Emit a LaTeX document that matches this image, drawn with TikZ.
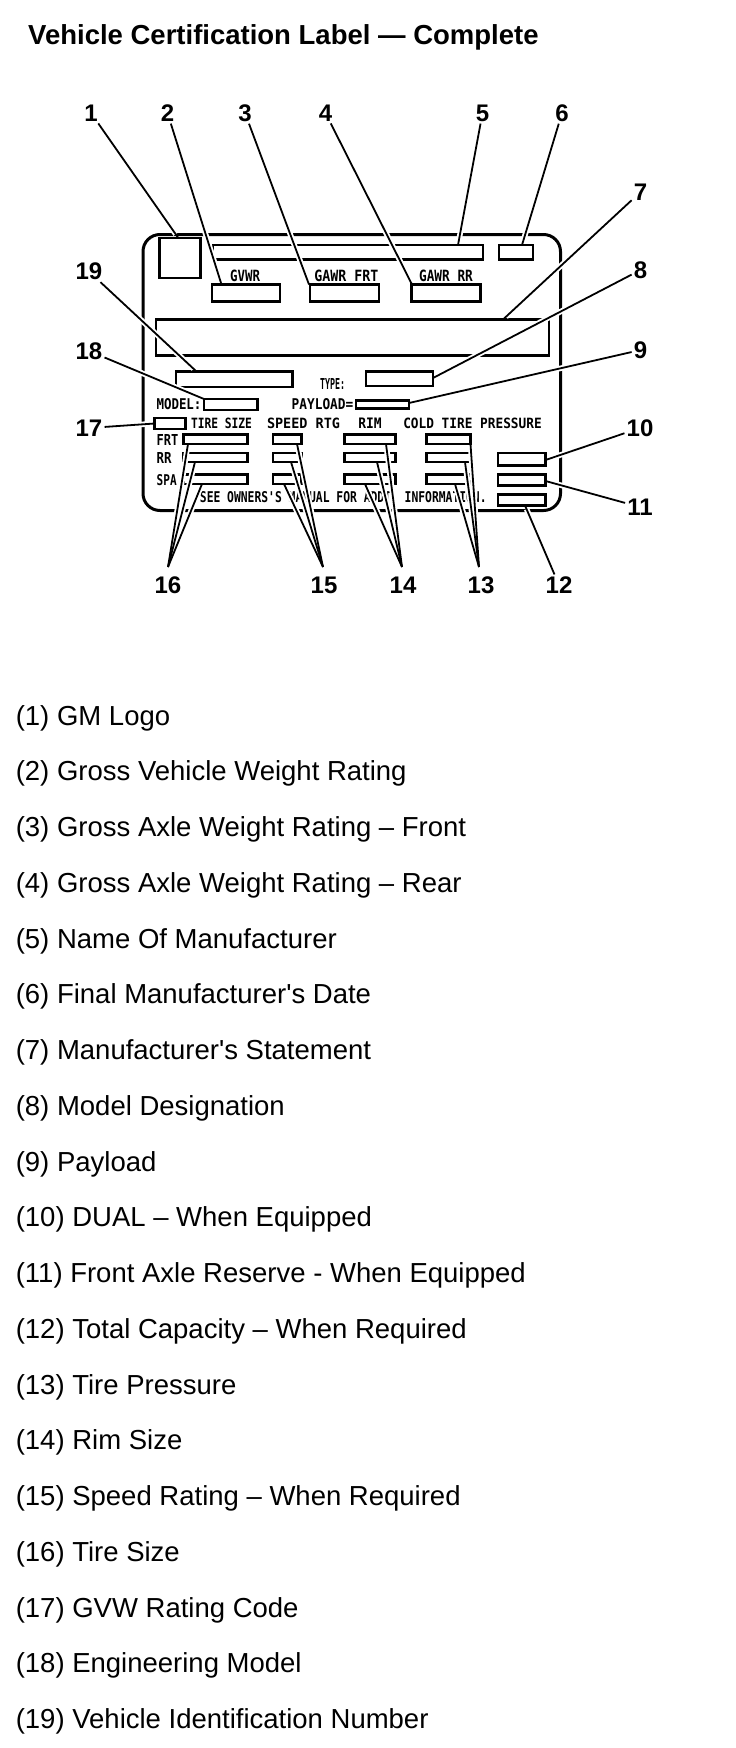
\documentclass[tikz,border=0pt]{standalone}
\usepackage{fontspec}
\usepackage{graphicx}
\setmainfont{Liberation Sans}
\newfontfamily\lblfont{DejaVu Sans Mono}
\usetikzlibrary{calc}
\newcommand\lbltext[3]{\resizebox{#1pt}{#2pt}{\lblfont\bfseries #3}}
\newcommand\bx[5]{\node[box, minimum width={#4-#2}, minimum height={#5-#3}] (#1) at ({(#2+#4)/2},{(#3+#5)/2}) {};}
\newcommand\leaderset[1]{%
  \draw[#1] (n1) -- (e1);
  \draw[#1] (n2) -- (e2);
  \draw[#1] (n3) -- (e3);
  \draw[#1] (n4) -- (e4);
  \draw[#1] (n5) -- (e5);
  \draw[#1] (n6) -- (e6);
  \draw[#1] (n7) -- (e7);
  \draw[#1] (n8) -- (e8);
  \draw[#1] (n9) -- (e9);
  \draw[#1] (n10) -- (e10);
  \draw[#1] (n11) -- (e11);
  \draw[#1] (n12) -- (e12);
  \draw[#1] (ap13) -- (e13a); \draw[#1] (ap13) -- (e13b); \draw[#1] (ap13) -- (e13c);
  \draw[#1] (ap14) -- (e14a); \draw[#1] (ap14) -- (e14b); \draw[#1] (ap14) -- (e14c);
  \draw[#1] (ap15) -- (e15a); \draw[#1] (ap15) -- (e15b); \draw[#1] (ap15) -- (e15c);
  \draw[#1] (ap16) -- (e16a); \draw[#1] (ap16) -- (e16b); \draw[#1] (ap16) -- (e16c);
  \draw[#1] (n17) -- (e17);
  \draw[#1] (n18) -- (e18);
  \draw[#1] (n19) -- (e19);
}
\begin{document}
\begin{tikzpicture}[x=1pt,y=-1pt,
  box/.style={draw, line width=2.8pt, inner sep=0pt, outer sep=0pt},
  lbl/.style={inner sep=0pt, outer sep=0pt, anchor=center},
  num/.style={font=\bfseries\fontsize{24}{24}\selectfont, inner sep=2pt},
  item/.style={anchor=base west, inner sep=0pt, font=\fontsize{27.5}{30}\selectfont},
  halo/.style={draw=white, line width=5.5pt, shorten >=4pt, shorten <=2pt},
  leader/.style={draw=black, line width=1.8pt}]
\fill[white] (0,0) rectangle (736,1748);
\useasboundingbox (0,0) rectangle (736,1748);

\node[anchor=base west, inner sep=0pt, font=\bfseries\fontsize{27.5}{30}\selectfont] (title) at (28,44.5) {Vehicle Certification Label — Complete};

% label frame
\node[draw, line width=3pt, rounded corners=17pt, minimum width=417.5, minimum height=276, inner sep=0pt] (frame) at (351.75,372.5) {};

% boxes
\bx{b1}{159.5}{238}{200.5}{278}
\bx{b5}{213}{245}{483}{259.5}
\bx{b6}{499}{245}{533}{259.5}
\bx{b2}{212}{284.5}{280}{301.5}
\bx{b3}{310}{284.5}{379}{301.5}
\bx{b4}{411.5}{284.5}{480.5}{301.5}
\bx{b7}{156}{319.5}{549}{355.5}
\bx{b19}{176}{371.5}{292.5}{387}
\bx{b8}{366}{371.5}{433}{386}
\bx{b18}{204}{399}{257.5}{410}
\bx{b9}{356}{400.5}{409}{408.5}
\bx{b17}{154.5}{418}{185.5}{429}
% tire rows
\bx{tf}{183.5}{434.5}{247.3}{444}
\bx{tr}{183.5}{453}{247.3}{462}
\bx{ts}{183.5}{474.5}{247.3}{484}
\bx{sf}{273}{434.5}{301.5}{444}
\bx{sr}{273}{453}{301.5}{462}
\bx{ss}{273}{474.5}{301.5}{484}
\bx{rf}{344.5}{434.5}{395.5}{444}
\bx{rr}{344.5}{453}{395.5}{462}
\bx{rs}{344.5}{474.5}{395.5}{484}
\bx{pf}{426.5}{434.5}{470.5}{444}
\bx{pr}{426.5}{453}{470.5}{462}
\bx{ps}{426.5}{474.5}{470.5}{484}
\bx{b10}{498}{453}{545.5}{465.5}
\bx{b11}{498}{474.5}{545.5}{485.5}
\bx{b12}{498}{494.5}{545.5}{505.5}

% label texts
\node[lbl] (tgvwr) at (245,276) {\lbltext{30}{11.5}{GVWR}};
\node[lbl] (tgfrt) at (346.3,276) {\lbltext{64}{11.5}{GAWR FRT}};
\node[lbl] (tgrr) at (446,276) {\lbltext{53.7}{11.5}{GAWR RR}};
\node[lbl] (ttype) at (332.5,384) {\lbltext{25}{11}{TYPE:}};
\node[lbl] (tmodel) at (179,404) {\lbltext{45}{11}{MODEL:}};
\node[lbl] (tpay) at (322.5,404) {\lbltext{61.6}{11}{PAYLOAD=}};
\node[lbl] (ttire) at (221.5,423.5) {\lbltext{61}{10.5}{TIRE SIZE}};
\node[lbl] (tspeed) at (303.5,423.5) {\lbltext{73}{10.5}{SPEED RTG}};
\node[lbl] (trim) at (370,423.5) {\lbltext{23.4}{10.5}{RIM}};
\node[lbl] (tcold) at (472.5,423.5) {\lbltext{138.4}{10.5}{COLD TIRE PRESSURE}};
\node[lbl] (tfrt) at (167.5,440) {\lbltext{21.7}{11}{FRT}};
\node[lbl] (trr) at (164,457.5) {\lbltext{15}{11}{RR}};
\node[lbl] (tspa) at (166.7,480) {\lbltext{20}{11}{SPA}};
\node[lbl] (tsee) at (343.3,496.7) {\lbltext{286.7}{11}{SEE OWNERS\textquotesingle S MANUAL FOR ADDT. INFORMATION.}};

% callout numbers
\node[num] (n1) at (91,113) {1};
\node[num] (n2) at (167.5,113) {2};
\node[num] (n3) at (245,113) {3};
\node[num] (n4) at (325.5,113) {4};
\node[num] (n5) at (482.5,113) {5};
\node[num] (n6) at (562,113) {6};
\node[num] (n7) at (640.5,192) {7};
\node[num] (n8) at (640.5,270) {8};
\node[num] (n9) at (640.5,350) {9};
\node[num] (n10) at (640,428) {10};
\node[num] (n11) at (640,507) {11};
\node[num] (n12) at (559,585) {12};
\node[num] (n13) at (481,585) {13};
\node[num] (n14) at (403,585) {14};
\node[num] (n15) at (324,585) {15};
\node[num] (n16) at (168,585) {16};
\node[num] (n17) at (89,428) {17};
\node[num] (n18) at (89,351) {18};
\node[num] (n19) at (89,271.5) {19};

% leader end points
\coordinate (e1) at (178,237.5);
\coordinate (e2) at (221.5,284.5);
\coordinate (e3) at (309,284.5);
\coordinate (e4) at (412,284.5);
\coordinate (e5) at (458,245);
\coordinate (e6) at (522,245);
\coordinate (e7) at (503,319.5);
\coordinate (e8) at (433,378);
\coordinate (e9) at (409,403);
\coordinate (e10) at (545.5,460);
\coordinate (e11) at (545.5,481);
\coordinate (e12) at (525,505.5);
\coordinate (ap13) at (479,567);
\coordinate (ap14) at (402,567);
\coordinate (ap15) at (323,567);
\coordinate (ap16) at (168,567);
\coordinate (e13a) at (470.5,444);
\coordinate (e13b) at (465,462);
\coordinate (e13c) at (455,484);
\coordinate (e14a) at (386,444);
\coordinate (e14b) at (377,462);
\coordinate (e14c) at (365,484);
\coordinate (e15a) at (297,444);
\coordinate (e15b) at (291,462);
\coordinate (e15c) at (284,484);
\coordinate (e16a) at (188,444);
\coordinate (e16b) at (195,462);
\coordinate (e16c) at (202,484);
\coordinate (e17) at (154.5,423.5);
\coordinate (e18) at (204,399);
\coordinate (e19) at (196.5,371.5);

\leaderset{halo}
\leaderset{leader}

% legend
\node[item] (l1) at (15.6,725) {(1) GM Logo};
\node[item] (l2) at (15.6,780.76) {(2) Gross Vehicle Weight Rating};
\node[item] (l3) at (15.6,836.52) {(3) Gross Axle Weight Rating – Front};
\node[item] (l4) at (15.6,892.28) {(4) Gross Axle Weight Rating – Rear};
\node[item] (l5) at (15.6,948.04) {(5) Name Of Manufacturer};
\node[item] (l6) at (15.6,1003.8) {(6) Final Manufacturer\textquotesingle s Date};
\node[item] (l7) at (15.6,1059.56) {(7) Manufacturer\textquotesingle s Statement};
\node[item] (l8) at (15.6,1115.32) {(8) Model Designation};
\node[item] (l9) at (15.6,1171.08) {(9) Payload};
\node[item] (l10) at (15.6,1226.84) {(10) DUAL – When Equipped};
\node[item] (l11) at (15.6,1282.6) {(11) Front Axle Reserve - When Equipped};
\node[item] (l12) at (15.6,1338.36) {(12) Total Capacity – When Required};
\node[item] (l13) at (15.6,1394.12) {(13) Tire Pressure};
\node[item] (l14) at (15.6,1449.88) {(14) Rim Size};
\node[item] (l15) at (15.6,1505.64) {(15) Speed Rating – When Required};
\node[item] (l16) at (15.6,1561.4) {(16) Tire Size};
\node[item] (l17) at (15.6,1617.16) {(17) GVW Rating Code};
\node[item] (l18) at (15.6,1672.92) {(18) Engineering Model};
\node[item] (l19) at (15.6,1728.68) {(19) Vehicle Identification Number};
\end{tikzpicture}
\end{document}
